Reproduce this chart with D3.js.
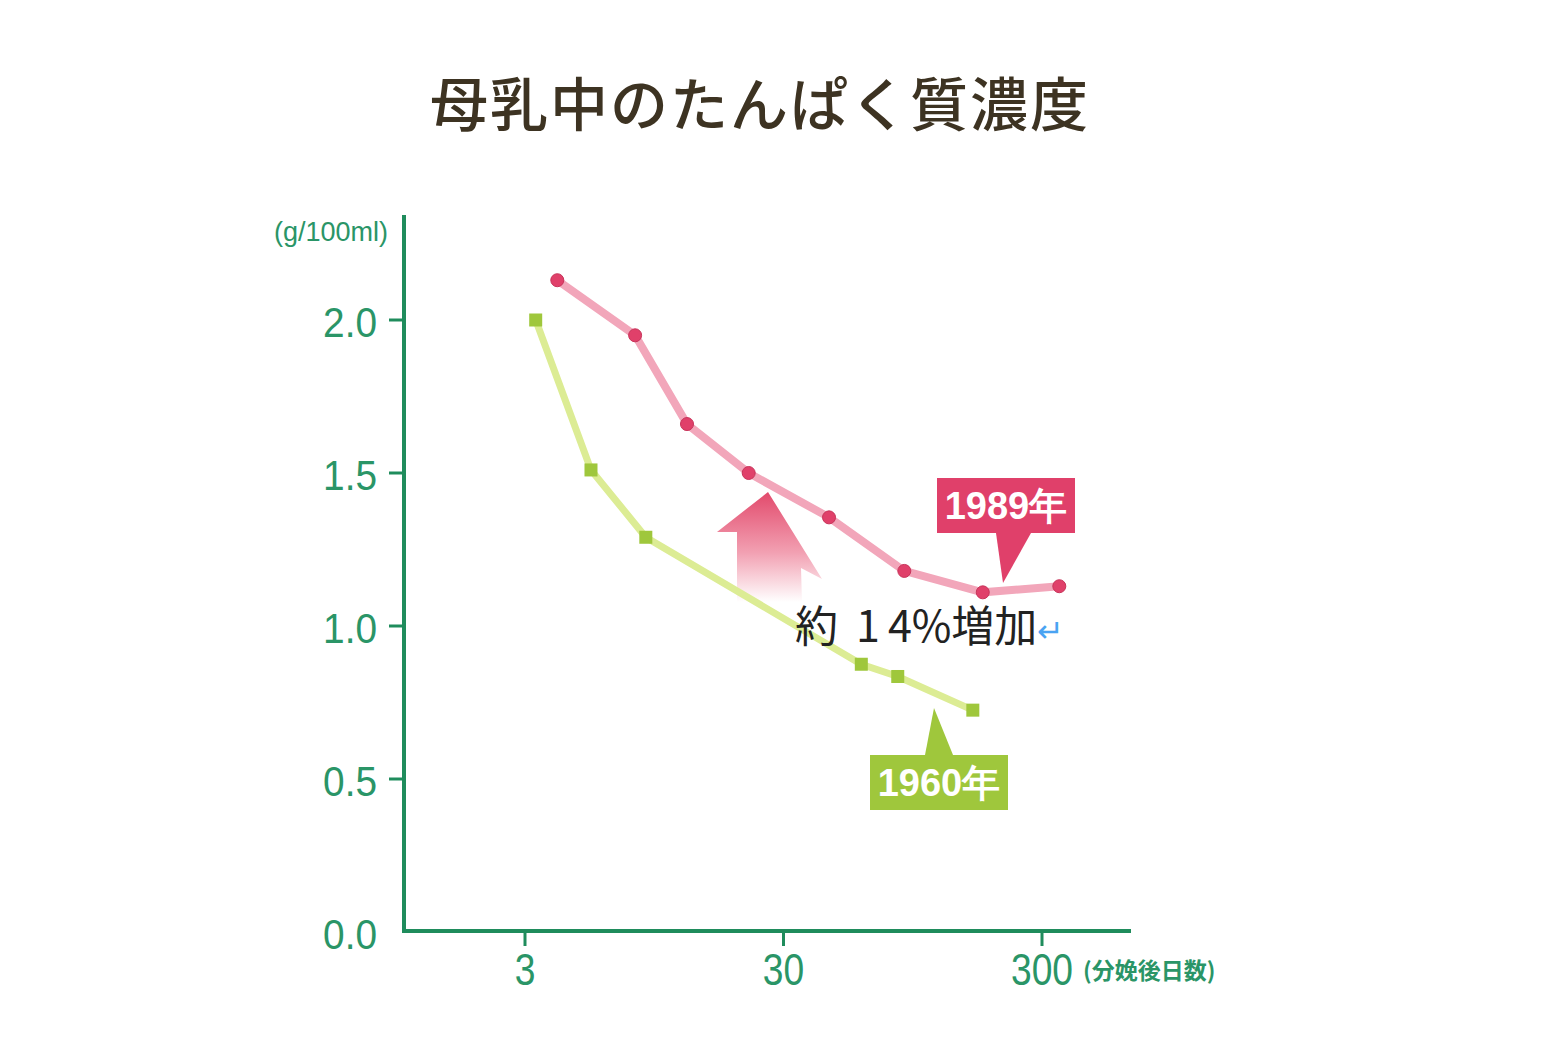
<!DOCTYPE html>
<html>
<head>
<meta charset="utf-8">
<script src="https://cdn.jsdelivr.net/npm/d3@7"></script>
<style>
  body { margin: 0; background: #fff; }
  svg { display: block; }
</style>
</head>
<body>
<div id="chart"></div>
<script>
// 分娩後日数 and たんぱく質濃度 (g/100ml)
var days1989 = [4, 8, 12.7, 22, 45, 88, 177, 350];
var prot1989 = [2.13, 1.95, 1.66, 1.50, 1.355, 1.18, 1.11, 1.13];
var days1960 = [3.3, 5.4, 8.8, 60, 83, 162];
var prot1960 = [2.00, 1.51, 1.29, 0.875, 0.835, 0.725];
var xTicks = [3, 30, 300];
var yTicks = [0, 0.5, 1.0, 1.5, 2.0];

var W = 1560, H = 1040;
var axisColor = "#1f8c5c", labelColor = "#2a9567";
var pink = "#e0406a", pinkLine = "#f2a6ba";
var green = "#9fc73c", greenLine = "#dcec94";

var svg = d3.select("#chart").append("svg")
    .attr("width", W).attr("height", H);

var x = d3.scaleLog().domain([3, 300]).range([525, 1042]);
var y = d3.scaleLinear().domain([0, 2]).range([932, 320]);

// title
svg.append("text")
    .attr("x", 760).attr("y", 126)
    .attr("text-anchor", "middle")
    .style("font-family", "'Noto Sans CJK JP'")
    .style("font-size", "58px")
    .style("font-weight", 500)
    .style("letter-spacing", "2px")
    .style("fill", "#3d3322")
    .text("母乳中のたんぱく質濃度");

// axes
svg.append("line")
    .attr("x1", 404).attr("x2", 404).attr("y1", 215).attr("y2", 932)
    .attr("stroke", axisColor).attr("stroke-width", 4);
svg.append("line")
    .attr("x1", 402).attr("x2", 1131).attr("y1", 931).attr("y2", 931)
    .attr("stroke", axisColor).attr("stroke-width", 4);

var yAxis = svg.append("g");
yAxis.selectAll("line").data(yTicks.filter(function(d){ return d > 0; }))
    .enter().append("line")
    .attr("x1", 389).attr("x2", 404)
    .attr("y1", function(d){ return y(d); }).attr("y2", function(d){ return y(d); })
    .attr("stroke", axisColor).attr("stroke-width", 3);
yAxis.selectAll("text").data(yTicks)
    .enter().append("text")
    .attr("transform", function(d){ return "translate(377," + (y(d) + 17) + ") scale(0.97,1.08)"; })
    .attr("text-anchor", "end")
    .style("font-family", "'Liberation Sans', Arial")
    .style("font-size", "40px")
    .style("fill", labelColor)
    .text(function(d){ return d3.format(".1f")(d); });

var xAxis = svg.append("g");
xAxis.selectAll("line").data(xTicks)
    .enter().append("line")
    .attr("x1", function(d){ return x(d); }).attr("x2", function(d){ return x(d); })
    .attr("y1", 931).attr("y2", 946)
    .attr("stroke", axisColor).attr("stroke-width", 3);
xAxis.selectAll("text").data(xTicks)
    .enter().append("text")
    .attr("transform", function(d){ return "translate(" + x(d) + ",985) scale(0.93,1.1)"; })
    .attr("text-anchor", "middle")
    .style("font-family", "'Liberation Sans', Arial")
    .style("font-size", "40px")
    .style("fill", labelColor)
    .text(function(d){ return d; });

svg.append("text")
    .attr("x", 1083).attr("y", 979)
    .style("font-family", "'Noto Sans CJK JP'")
    .style("font-size", "23px")
    .style("font-weight", 700)
    .style("fill", labelColor)
    .text("(分娩後日数)");

svg.append("text")
    .attr("x", 388).attr("y", 241)
    .attr("text-anchor", "end")
    .style("font-family", "'Liberation Sans', Arial")
    .style("font-size", "27px")
    .style("fill", labelColor)
    .text("(g/100ml)");

// arrow (increase)
var grad = svg.append("defs").append("linearGradient")
    .attr("id", "arrowGrad").attr("x1", 0).attr("y1", 0).attr("x2", 0).attr("y2", 1);
grad.append("stop").attr("offset", "0%").attr("stop-color", "#e24a6c");
grad.append("stop").attr("offset", "55%").attr("stop-color", "#f2a0b2");
grad.append("stop").attr("offset", "100%").attr("stop-color", "#ffffff");
svg.append("path")
    .attr("d", "M768,492 L822,579 L801,568 L802,602 L737,602 L737,532 L717,532 Z")
    .attr("fill", "url(#arrowGrad)");

// lines
var line = d3.line()
    .x(function(d){ return x(d[0]); })
    .y(function(d){ return y(d[1]); });

var pts1989 = days1989.map(function(d, i){ return [d, prot1989[i]]; });
var pts1960 = days1960.map(function(d, i){ return [d, prot1960[i]]; });

svg.append("path").datum(pts1960)
    .attr("d", line)
    .attr("fill", "none")
    .attr("stroke", greenLine).attr("stroke-width", 7);
svg.append("path").datum(pts1989)
    .attr("d", line)
    .attr("fill", "none")
    .attr("stroke", pinkLine).attr("stroke-width", 8);

svg.selectAll(".sq").data(pts1960)
    .enter().append("rect")
    .attr("class", "sq")
    .attr("x", function(d){ return x(d[0]) - 6.5; })
    .attr("y", function(d){ return y(d[1]) - 6.5; })
    .attr("width", 13).attr("height", 13)
    .attr("fill", green);

svg.selectAll(".dot").data(pts1989)
    .enter().append("circle")
    .attr("class", "dot")
    .attr("cx", function(d){ return x(d[0]); })
    .attr("cy", function(d){ return y(d[1]); })
    .attr("r", 6.5)
    .attr("fill", pink)
    .attr("stroke", "#c8345a").attr("stroke-width", 1);

// callouts
function callout(cx, top, w, h, tipX, tipY, baseL, baseR, color, label) {
    var g = svg.append("g");
    var pBaseY = tipY > top ? top + h : top;
    g.append("path")
        .attr("d", "M" + baseL + "," + pBaseY + " L" + tipX + "," + tipY + " L" + baseR + "," + pBaseY + " Z")
        .attr("fill", color);
    g.append("rect")
        .attr("x", cx - w / 2).attr("y", top)
        .attr("width", w).attr("height", h)
        .attr("fill", color);
    g.append("text")
        .attr("x", cx).attr("y", top + h / 2 + 13)
        .attr("text-anchor", "middle")
        .style("font-family", "'Liberation Sans', Arial")
        .style("font-size", "38px")
        .style("font-weight", 700)
        .style("fill", "#fff")
        .text(label);
}
callout(1006, 478, 138, 55, 1003, 583, 996, 1031, pink, "1989年");
callout(939, 755, 138, 55, 934, 708, 925, 953, green, "1960年");

// annotation
var note = svg.append("text")
    .attr("x", 795).attr("y", 642)
    .style("font-family", "'Noto Sans CJK JP'")
    .style("font-size", "43px")
    .style("fill", "#222");
note.append("tspan").text("約");
note.append("tspan").attr("dx", 18).text("1");
note.append("tspan").attr("dx", 8).text("4%増加");
note.append("tspan").style("fill", "#4aa3f2").style("font-size", "32px").text("↵");
</script>
</body>
</html>
